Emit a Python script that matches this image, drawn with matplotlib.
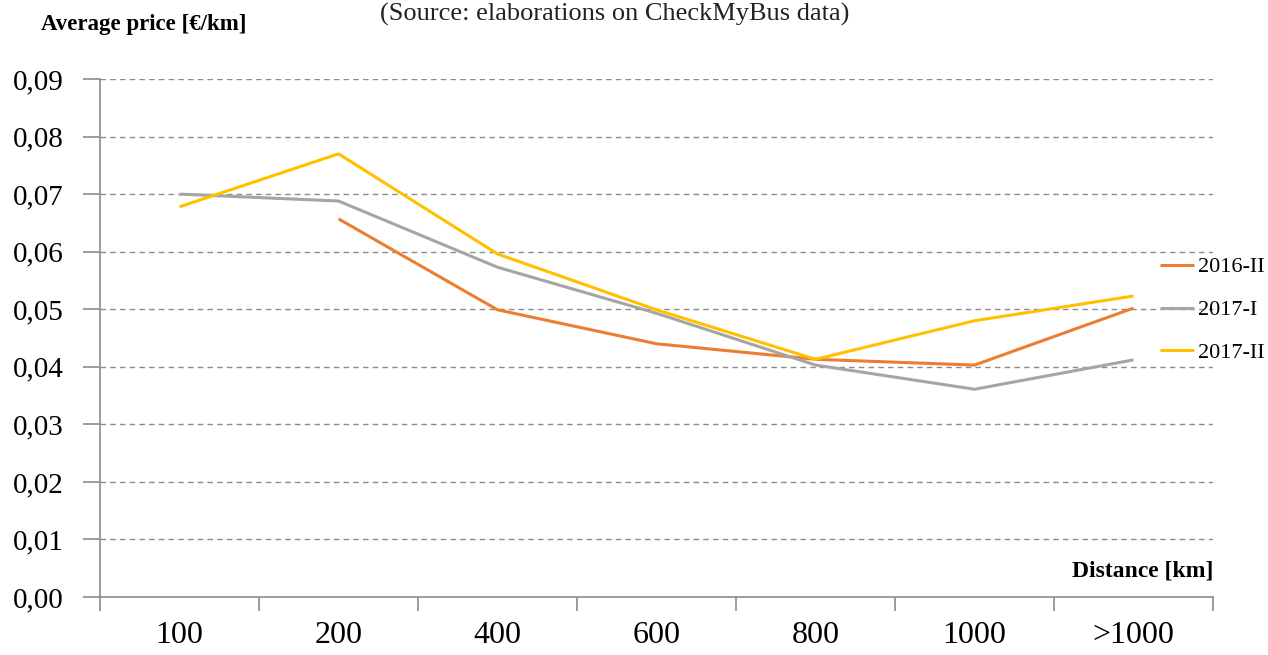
import numpy as np
import matplotlib
matplotlib.use("Agg")
import matplotlib.pyplot as plt

# --- data ---
categories = ["100", "200", "400", "600", "800", "1000", ">1000"]
price_2016_II = [np.nan, 0.0657, 0.0499, 0.0440, 0.0413, 0.0403, 0.0502]
price_2017_I = [0.0700, 0.0688, 0.0573, 0.0493, 0.0403, 0.0361, 0.0412]
price_2017_II = [0.0678, 0.0770, 0.0596, 0.0499, 0.0413, 0.0480, 0.0523]
series_names = ["2016-II", "2017-I", "2017-II"]
y_ticks = [0.00, 0.01, 0.02, 0.03, 0.04, 0.05, 0.06, 0.07, 0.08, 0.09]

colors = ["#ED7D31", "#A5A5A5", "#FFC000"]
serif = ["Liberation Serif", "DejaVu Serif"]

fig = plt.figure(figsize=(12.68, 6.55), dpi=100)
ax = fig.add_axes([0.0789, 0.0885, 0.8777, 0.7909])

x = np.arange(len(categories))
for vals, name, col in zip([price_2016_II, price_2017_I, price_2017_II], series_names, colors):
    ax.plot(x, vals, color=col, lw=2.2, label=name, solid_capstyle="butt")

ax.set_xlim(-0.5, len(categories) - 0.5)
ax.set_ylim(0, 0.09)

# gridlines (skip 0, that's the axis line)
for yv in y_ticks[1:]:
    ax.axhline(yv, color="#8c8c8c", lw=1.0, ls=(0, (4, 3)), zorder=0)

ax.set_yticks(y_ticks)
ax.set_yticklabels([f"{v:.2f}".replace(".", ",") for v in y_ticks],
                   family=serif, fontsize=21)
ax.set_xticks(x)
ax.set_xticklabels(categories, family=serif, fontsize=23)
ax.set_xticks(np.arange(-0.5, len(categories)), minor=True)
ax.tick_params(axis="x", which="major", length=0, pad=17)
ax.tick_params(axis="x", which="minor", length=10, color="#8c8c8c", width=1.2)
ax.tick_params(axis="y", length=12, color="#8c8c8c", width=1.2, pad=14)

for s in ["top", "right"]:
    ax.spines[s].set_visible(False)
for s in ["left", "bottom"]:
    ax.spines[s].set_color("#8c8c8c")
    ax.spines[s].set_linewidth(1.2)

fig.text(0.032, 0.962, "Average price [€/km]", family=serif, fontsize=16.5,
         fontweight="bold", ha="left", va="center")
fig.text(0.485, 0.978, "(Source: elaborations on CheckMyBus data)", family=serif,
         fontsize=19, ha="center", va="center", color="#222222")
fig.text(0.957, 0.128, "Distance [km]", family=serif, fontsize=17,
         fontweight="bold", ha="right", va="center")

leg = fig.legend(loc="center left", bbox_to_anchor=(1160 / 1268, 1 - 310 / 655),
                 frameon=False, prop={"family": serif, "size": 16},
                 handlelength=1.53, handletextpad=0.18, labelspacing=1.0,
                 borderpad=0, borderaxespad=0)

fig.savefig("out.png", dpi=100)
